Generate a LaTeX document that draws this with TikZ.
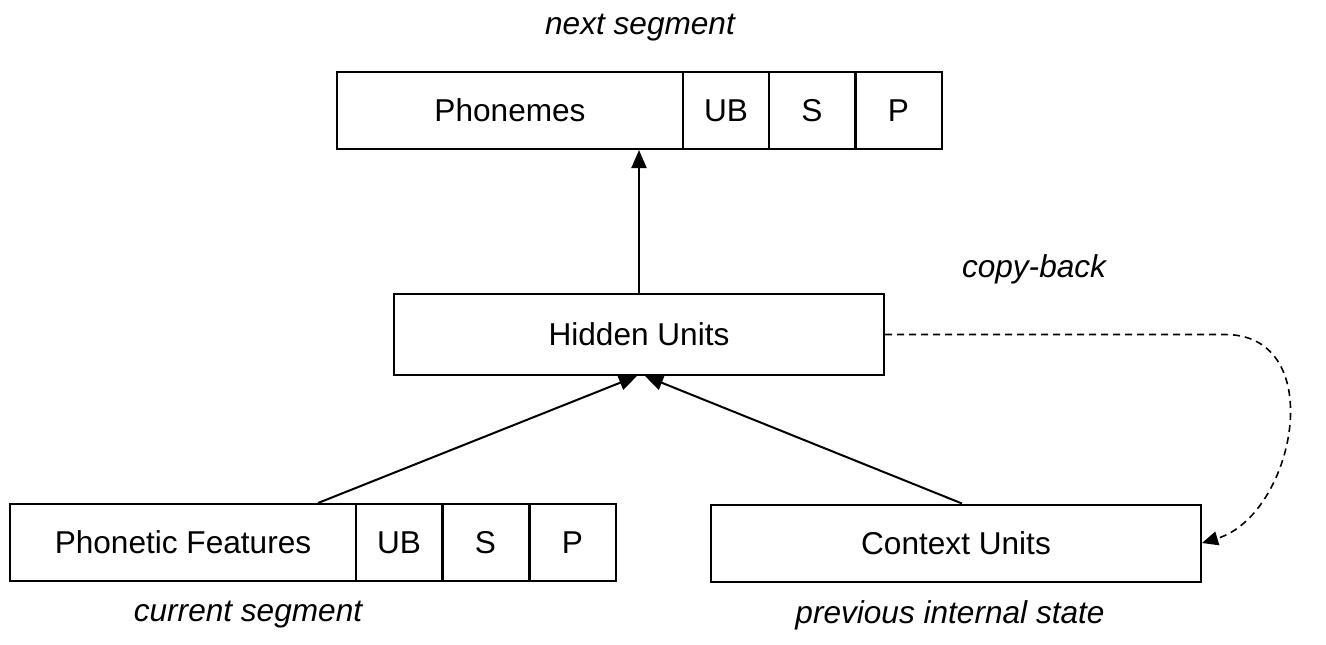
\documentclass[tikz,border=0pt]{standalone}
\usepackage{fontspec}
\setmainfont{Liberation Sans}
\usetikzlibrary{arrows.meta}
\tikzset{
  cell/.style={draw,line width=1pt,inner sep=0pt,minimum height=38.5pt},
  wide/.style={cell,minimum width=173pt},
  slim/.style={cell,minimum width=43pt},
  layer/.style={cell,minimum width=245pt},
  arr/.style={line width=1pt,-{Triangle[length=9pt,width=7.5pt]}},
  copyarr/.style={line width=0.8pt,dash pattern=on 3.5pt off 2.5pt,-{Triangle[length=8pt,width=7pt]}},
  note/.style={font=\fontsize{15.8}{19}\selectfont\itshape}
}
\begin{document}
\begin{tikzpicture}[x=0.5pt,y=-0.5pt,font=\fontsize{15.8}{19}\selectfont]
\useasboundingbox (0,0) rectangle (1326,644);

\node[wide] (phon) at (510,110.5) {Phonemes};
\node[slim] (phonub) at (726,110.5) {UB};
\node[slim] (phons) at (812,110.5) {S};
\node[slim] (phonp) at (898.5,110.5) {P};

\node[layer,minimum height=40.5pt] (hidden) at (639,334.5) {Hidden Units};

\node[wide] (feat) at (183,542.5) {Phonetic Features};
\node[slim] (featub) at (399,542.5) {UB};
\node[slim] (feats) at (485.5,542.5) {S};
\node[slim] (featp) at (572.5,542.5) {P};

\node[layer] (ctx) at (956,543) {Context Units};

\draw[arr] (hidden.north) -- (hidden.north |- phon.south);
\draw[arr] ([xshift=67.5pt]feat.north) -- ([xshift=-1pt]hidden.south);
\draw[arr] ([xshift=3pt]ctx.north) -- ([xshift=3pt]hidden.south);

\coordinate (bend) at (1225,334.5);
\draw[copyarr] (hidden.east) -- (bend) .. controls (1330,334.5) and (1295,515) .. (ctx.east);

\node[note] (nextseg) at (640,28) {next segment};
\node[note] (copyback) at (1034,269) {copy-back};
\node[note] (curseg) at (248,615) {current segment};
\node[note] (prevstate) at (950,615) {previous internal state};
\end{tikzpicture}
\end{document}
